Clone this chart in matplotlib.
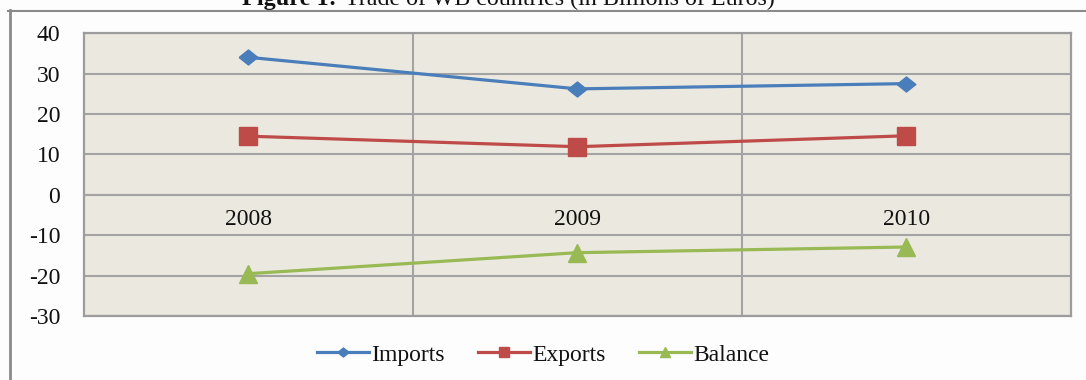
import matplotlib.pyplot as plt
from matplotlib.lines import Line2D

years = ["2008", "2009", "2010"]
imports = [34.0, 26.2, 27.5]
exports = [14.5, 11.9, 14.6]
balance = [-19.5, -14.3, -12.9]
y_ticks = [40, 30, 20, 10, 0, -10, -20, -30]

GRID = "#a3a3a3"
PANEL = "#ebe9df"
SERIF = ["Liberation Serif", "DejaVu Serif"]

plt.rcParams['font.family'] = SERIF
plt.rcParams['text.color'] = "#111111"
plt.rcParams['axes.unicode_minus'] = False

fig = plt.figure(figsize=(10.86, 3.80), dpi=100, facecolor="#fdfdfd")
ax = fig.add_axes([0.0773, 0.168, 0.9087, 0.745])
ax.set_facecolor(PANEL)

x = list(range(1, len(years) + 1))
diamond = [(-1.25, 0), (0, 1), (1.25, 0), (0, -1), (-1.25, 0)]
ax.plot(x, imports, color="#4a7ebb", lw=2.3, marker=diamond, ms=13.5,
        label="Imports", zorder=4)
ax.plot(x, exports, color="#be4b48", lw=2.3, marker="s", ms=13,
        label="Exports", zorder=4)
ax.plot(x, balance, color="#98b954", lw=2.3, marker="^", ms=13,
        label="Balance", zorder=4)

ax.set_xlim(0.5, len(years) + 0.5)
ax.set_ylim(min(y_ticks), max(y_ticks))
ax.set_yticks(y_ticks)
ax.set_xticks(x)
ax.set_xticklabels(years)
ax.set_xticks([i + 0.5 for i in x[:-1]], minor=True)

ax.grid(axis="y", which="major", color=GRID, lw=1.5, zorder=1)
ax.grid(axis="x", which="minor", color=GRID, lw=1.5, zorder=1)
ax.set_axisbelow(True)

# category axis crosses at zero, labels sit just under it
ax.spines['bottom'].set_position(('data', 0))
ax.spines['bottom'].set_color(GRID)
ax.spines['bottom'].set_linewidth(1.5)
for side in ["left", "top", "right"]:
    ax.spines[side].set_color("#9c9c9c")
    ax.spines[side].set_linewidth(1.6)
ax.axhline(min(y_ticks), color="#9c9c9c", lw=1.6, clip_on=False)

ax.tick_params(axis="both", which="both", length=0, labelsize=17,
               colors="#111111")
ax.tick_params(axis="y", pad=17)
ax.tick_params(axis="x", pad=10)

fig.legend(loc="center", bbox_to_anchor=(0.5, 0.066), ncol=3, frameon=False,
           fontsize=17, handlelength=2.2, handletextpad=0.1,
           columnspacing=1.4, markerscale=0.6)

# outer frame of the figure box
fig.add_artist(Line2D([10 / 1086, 10 / 1086], [0, 1 - 10 / 380],
                      transform=fig.transFigure, color="#8a8a8a", lw=2))
fig.add_artist(Line2D([8 / 1086, 1], [1 - 10.5 / 380, 1 - 10.5 / 380],
                      transform=fig.transFigure, color="#8a8a8a", lw=1.5))

fig.text(337 / 1086, 1 - 5 / 380, "Figure 1:", ha="right", va="baseline",
         fontsize=17.5, fontweight="bold")
fig.text(345 / 1086, 1 - 5 / 380, "Trade of WB countries (in Billions of Euros)",
         ha="left", va="baseline", fontsize=17.3)

fig.savefig("out.png", dpi=100, facecolor=fig.get_facecolor())
